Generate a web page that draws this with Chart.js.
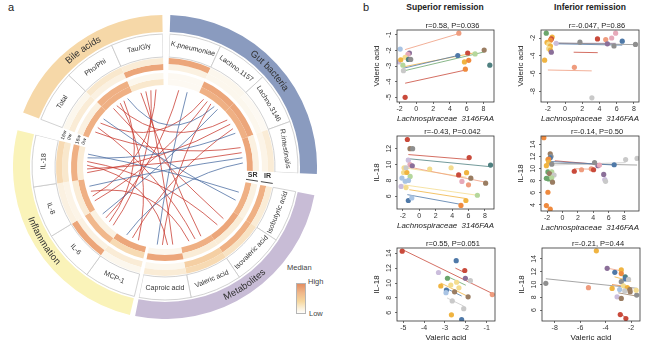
<!DOCTYPE html>
<html>
<head>
<meta charset="utf-8">
<script src="https://cdn.jsdelivr.net/npm/chart.js@4.4.0/dist/chart.umd.min.js"></script>
<style>
  body { margin: 0; background: #fff; width: 650px; height: 350px; overflow: hidden; position: relative;
         font-family: "Liberation Sans", Arial, sans-serif; color: #222; }
  .abs { position: absolute; white-space: nowrap; }
  canvas { position: absolute; }
</style>
</head>
<body>
<div class="abs" style="left:8px;top:1px;font-size:11px;">a</div>
<div class="abs" style="left:363px;top:1px;font-size:11px;">b</div>
<div class="abs" style="left:385px;top:2px;width:120px;text-align:center;font-size:8.5px;font-weight:bold;">Superior remission</div>
<div class="abs" style="left:530px;top:2px;width:120px;text-align:center;font-size:8.5px;font-weight:bold;">Inferior remission</div>

<div class="abs" style="left:287px;top:263px;font-size:7.5px;color:#444;">Median</div>
<div class="abs" style="left:296px;top:283px;width:8px;height:29px;border:1px solid #b5b5b5;
     background:linear-gradient(#e38e62, #f0b789 30%, #f6d79e 60%, #fbf1dc 85%, #fefdfb);"></div>
<div class="abs" style="left:308px;top:277px;font-size:7.5px;color:#444;">High</div>
<div class="abs" style="left:309px;top:309px;font-size:7.5px;color:#444;">Low</div>

<canvas id="circos" width="304" height="304" style="left:13px;top:15px;"></canvas>
<canvas id="p1"></canvas>
<canvas id="p2"></canvas>
<canvas id="p3"></canvas>
<canvas id="p4"></canvas>
<canvas id="p5"></canvas>
<canvas id="p6"></canvas>

<script>
// ---------------- panel a : circos data ----------------
const groups = ['Gut bacteria', 'Metabolites', 'Inflammation', 'Bile acids'];
const features = ['K.pneumoniae', 'Lachno.1157', 'Lachno.3146', 'R.intestinalis',
    'Isobutyric acid', 'Isovaleric acid', 'Valeric acid', 'Caproic acid',
    'MCP-1', 'IL-6', 'IL-8', 'IL-18',
    'Total', 'Pho/Phi', 'Tau/Gly'];
const featureGroup = [0, 0, 0, 0, 1, 1, 1, 1, 2, 2, 2, 2, 3, 3, 3];

// scaled medians, 0 = low, 1 = high (outer ring first)
const medianIR16w = [0.85, 0.10, 0.05, 0.30, 0.30, 0.40, 0.50, 0.30, 0.10, 0.85, 0.20, 0.50, 0.10, 0.35, 0.30];
const medianIR0w  = [0.20, 0.10, 0.10, 0.15, 0.80, 0.80, 0.60, 0.10, 0.30, 0.20, 0.15, 0.35, 0.30, 0.20, 0.85];
const medianSR16w = [0.05, 0.85, 0.85, 0.20, 0.20, 0.30, 0.30, 0.85, 0.50, 0.75, 0.30, 0.80, 0.20, 0.80, 0.10];
const medianSR0w  = [0.05, 0.80, 0.80, 0.85, 0.80, 0.85, 0.80, 0.10, 0.85, 0.20, 0.80, 0.30, 0.80, 0.80, 0.35];
const ringNames = ['16w', '0w', '16w', '0w'];

// correlations drawn as links (1 = positive, -1 = negative)
const linkFrom = ['Tau/Gly', 'Tau/Gly', 'Tau/Gly', 'Pho/Phi', 'Pho/Phi', 'Pho/Phi', 'Total', 'Total', 'Total',
    'IL-18', 'IL-18', 'IL-18', 'IL-8', 'IL-8', 'IL-6', 'MCP-1', 'Caproic acid', 'Valeric acid', 'Isovaleric acid',
    'K.pneumoniae', 'Lachno.1157', 'Lachno.3146', 'R.intestinalis', 'Isobutyric acid', 'Lachno.1157',
    'K.pneumoniae', 'Isobutyric acid', 'R.intestinalis'];
const linkTo = ['Valeric acid', 'Caproic acid', 'IL-6', 'Isovaleric acid', 'Lachno.3146', 'MCP-1', 'R.intestinalis',
    'Valeric acid', 'Lachno.1157', 'Lachno.3146', 'R.intestinalis', 'Caproic acid', 'Lachno.1157', 'Tau/Gly',
    'Pho/Phi', 'Lachno.3146', 'Lachno.1157', 'IL-8', 'IL-18', 'IL-6',
    'Pho/Phi', 'IL-18', 'IL-8', 'IL-18', 'IL-6', 'Caproic acid', 'Total', 'MCP-1'];
const linkSign = [1, 1, 1, 1, 1, 1, 1, 1, 1, 1, 1, 1, 1, 1, 1, 1, 1, 1, 1, 1, -1, -1, -1, -1, -1, -1, -1, -1];

// ---------------- panel b : scatter data ----------------
// colour index per subject, points [x], [y], [colour], fitted lines [x1, y1, x2, y2, colour]
const p1X = [5.06, -1.92, -0.82, -1.0, -1.33, -0.94, -0.67, -2.1, -1.85, -1.6, -1.53, 4.94, 6.12, 7.0, 8.08, 5.73, 6.24, 5.84, 8.75, -1.33];
const p1Y = [-0.9, -1.92, -2.17, -2.25, -2.44, -2.58, -2.58, -2.74, -2.6, -2.95, -3.3, -2.33, -2.17, -2.23, -1.98, -2.74, -2.64, -3.2, -2.95, -5.0];
const p1C = [1, 8, 9, 15, 4, 14, 12, 10, 3, 6, 13, 7, 0, 6, 11, 3, 2, 2, 14, 0];
const p1Lines = [[-1.33, -1.95, 4.94, -0.95, 1], [-1.6, -3.15, 4.94, -2.33, 7], [-1.5, -3.05, 7.0, -2.15, 3],
    [-1.4, -3.3, 8.1, -2.1, 5], [-1.33, -4.1, 5.84, -3.26, 0]];

const p2X = [-2.19, -1.5, -1.6, -1.7, -2.1, -1.9, -1.7, -1.9, -1.7, -1.6, -2.38, -1.04, 1.73, 3.77, 4.73, 5.42, 5.88, 4.92, 6.65, 5.69, 8.19, 1.08, 3.12];
const p2Y = [-1.46, -1.9, -2.1, -2.25, -2.5, -2.7, -2.9, -3.2, -3.35, -3.6, -4.5, -2.6, -2.47, -2.1, -2.18, -2.0, -1.46, -2.65, -2.36, -2.9, -2.72, -5.3, -8.73];
const p2C = [5, 3, 0, 2, 3, 4, 3, 4, 3, 9, 3, 10, 12, 0, 1, 15, 15, 9, 7, 12, 12, 1, 13];
const p2Lines = [[-1.3, -2.55, 8.2, -2.75, 12], [-1.3, -2.65, 6.65, -2.8, 7], [-1.0, -2.6, 5.9, -2.6, 9],
    [1.0, -3.6, 3.8, -3.65, 0], [-2.0, -5.6, 3.1, -5.7, 1]];

const p3X = [-1.44, -1.12, -0.8, 6.08, 8.68, -1.32, -1.12, -0.84, -1.84, -1.6, 1.28, 3.88, 5.76, 4.8, -1.9, -1.5, -1.1, 5.2, 6.28, 8.08, 6.0, -2.1, -1.7, -1.3, -2.2, -1.6, 7.08, 5.68, 5.08, -1.32, -0.9];
const p3Y = [13.16, 12.0, 12.0, 10.88, 9.93, 10.55, 10.0, 9.85, 9.6, 9.6, 9.44, 9.6, 8.98, 8.7, 9.0, 9.0, 8.5, 7.87, 8.28, 7.66, 7.45, 8.3, 7.9, 8.0, 7.25, 7.1, 6.13, 5.47, 4.85, 5.47, 5.8];
const p3C = [0, 11, 12, 0, 14, 10, 15, 9, 4, 13, 4, 4, 3, 0, 4, 3, 6, 15, 11, 11, 1, 8, 8, 8, 10, 4, 6, 3, 2, 7, 8];
const p3Lines = [[-1.32, 11.26, 6.0, 10.64, 0], [-1.52, 10.76, 8.68, 9.73, 14], [-1.44, 9.73, 8.08, 7.78, 1],
    [-1.8, 9.6, 5.76, 8.4, 4], [-1.92, 7.45, 7.08, 6.13, 4], [-1.2, 6.83, 5.68, 5.72, 3], [-1.44, 6.21, 5.08, 4.98, 7]];

const p4X = [-2.43, -1.6, -1.5, -1.6, -1.9, -1.8, -1.8, -2.1, -1.4, -1.9, -1.4, -1.7, -1.1, -2.1, -1.8, -1.4, -1.3, -1.9, -2.1, -1.6, 1.53, 2.47, 3.74, 4.04, 4.6, 4.8, 4.17, 6.72, 8.21, 9.7, 5.36, 5.5, 5.6];
const p4Y = [15.13, 12.45, 12.04, 11.8, 11.5, 11.6, 11.1, 10.5, 10.75, 9.46, 9.46, 9.2, 8.95, 8.4, 8.3, 8.5, 7.76, 6.1, 3.9, 3.3, 9.57, 9.82, 9.98, 9.82, 10.5, 10.6, 11.0, 10.65, 11.5, 11.7, 9.05, 8.2, 7.9];
const p4C = [2, 11, 12, 7, 3, 2, 3, 3, 12, 5, 6, 11, 13, 5, 5, 6, 11, 2, 2, 2, 0, 1, 1, 0, 9, 15, 12, 7, 13, 13, 9, 10, 13];
const p4Lines = [[-1.6, 11.2, 6.72, 10.6, 7], [-1.5, 10.9, 9.7, 10.6, 12], [-1.3, 10.6, 8.2, 11.0, 13],
    [1.5, 10.0, 4.0, 9.9, 1], [-1.0, 11.3, 4.8, 10.7, 0]];

const p5X = [-5.05, -2.46, -2.05, -3.31, -2.88, -2.02, -1.78, -2.44, -2.72, -3.2, -2.33, -2.93, -2.54, -2.95, -1.89, -0.73, -2.65, -2.1, -2.69, -2.2];
const p5Y = [14.27, 13.0, 11.68, 11.41, 10.64, 10.64, 10.32, 10.1, 9.73, 9.6, 9.36, 9.05, 8.82, 8.7, 8.14, 8.45, 7.6, 6.55, 5.73, 5.1];
const p5C = [0, 7, 0, 10, 5, 9, 13, 4, 4, 3, 4, 7, 11, 8, 11, 1, 13, 13, 3, 7];
const p5Lines = [[-5.05, 14.5, -0.73, 8.6, 0], [-2.5, 12.0, -2.05, 11.4, 0], [-2.9, 10.9, -2.0, 9.7, 5],
    [-3.2, 10.0, -1.9, 8.2, 3], [-2.95, 9.3, -2.2, 8.25, 7], [-2.9, 8.0, -2.1, 6.9, 13]];

const p6X = [-4.73, -3.88, -3.28, -2.77, -2.77, -2.46, -2.46, -2.77, -2.2, -8.7, -5.35, -3.49, -2.6, -2.3, -2.9, -2.5, -2.1, -3.1, -2.77, -2.07, -1.56, -1.6, -2.85, -2.41];
const p6Y = [15.26, 12.53, 11.9, 12.27, 11.7, 11.2, 10.86, 10.44, 10.8, 10.18, 9.5, 9.39, 9.8, 9.5, 9.2, 9.0, 9.2, 8.08, 7.82, 8.87, 8.35, 9.1, 5.3, 4.68];
const p6C = [3, 9, 7, 3, 2, 14, 7, 12, 13, 12, 1, 3, 4, 3, 8, 13, 11, 10, 11, 11, 12, 4, 0, 0];
const p6Lines = [[-8.7, 10.9, -1.5, 9.4, 12], [-4.0, 12.6, -2.7, 12.1, 1], [-3.3, 11.2, -2.0, 10.5, 3],
    [-3.5, 10.0, -2.1, 9.6, 2], [-2.9, 5.5, -2.4, 4.8, 0], [-3.0, 8.7, -1.6, 8.2, 11]];

// ---------------- styles ----------------
const fontFamily = '"Liberation Sans", Arial, sans-serif';
Chart.defaults.font.family = fontFamily;
Chart.defaults.color = '#222';

const palette = ['#c94a3b', '#ef9c7e', '#ef8a3e', '#f0b441', '#f4dc8e', '#6ca66c', '#b5d79c', '#4f79a8',
    '#a9c4e4', '#8b6f99', '#cbbddc', '#9a7d62', '#8f8f8f', '#c9c9c9', '#4f8080', '#e6a9b9'];
const groupColors = ['#8a9bbf', '#c8bcd6', '#faf3b9', '#f6d8a8'];
const heatStops = [[0, [253, 252, 248]], [0.3, [250, 236, 214]], [0.55, [246, 214, 170]],
    [0.78, [240, 180, 136]], [1, [226, 137, 93]]];
const clear = 'rgba(0,0,0,0)';

function heatColor(v) {
    for (let i = 1; i < heatStops.length; i++) {
        if (v <= heatStops[i][0]) {
            const a = heatStops[i - 1], b = heatStops[i];
            const t = (v - a[0]) / (b[0] - a[0]);
            const c = a[1].map((x, k) => Math.round(x + (b[1][k] - x) * t));
            return `rgb(${c[0]},${c[1]},${c[2]})`;
        }
    }
    return 'rgb(226,137,93)';
}

// ---------------- circos rings ----------------
const gapDeg = [8, 2, 7, 3];
const segDeg = (360 - 20) / features.length;

let slices = [];
let sliceIsGap = [];
let sliceOf = [];
let bandSlices = [];
let bandColors = [];
for (let i = 0; i < features.length; i++) {
    sliceOf.push(slices.length);
    slices.push(segDeg);
    sliceIsGap.push(false);
    const last = (i == features.length - 1 || featureGroup[i + 1] != featureGroup[i]);
    if (last) {
        const g = featureGroup[i];
        slices.push(gapDeg[g]);
        sliceIsGap.push(true);
        let n = 0;
        for (let j = 0; j < features.length; j++) if (featureGroup[j] == g) n++;
        bandSlices.push(n * segDeg, gapDeg[g]);
        bandColors.push(groupColors[g], clear);
    }
}

function heatRing(vals, w) {
    let colors = [];
    let k = 0;
    for (let j = 0; j < slices.length; j++) {
        colors.push(sliceIsGap[j] ? clear : heatColor(vals[k++]));
    }
    return {data: slices, backgroundColor: colors, borderWidth: 0, weight: w};
}

function spacer(w) {
    return {data: [1], backgroundColor: [clear], borderWidth: 0, weight: w};
}

const circosData = {
    datasets: [
        {data: bandSlices, backgroundColor: bandColors, borderWidth: 0, weight: 17},
        spacer(2),
        {data: slices, backgroundColor: slices.map(() => '#ffffff'),
         borderColor: sliceIsGap.map(g => g ? clear : '#c6c6c6'),
         borderWidth: sliceIsGap.map(g => g ? 0 : 0.8), weight: 23},
        spacer(1),
        heatRing(medianIR16w, 6),
        heatRing(medianIR0w, 6),
        spacer(3),
        heatRing(medianSR16w, 6),
        heatRing(medianSR0w, 6),
        spacer(4)
    ]
};

function textRotation(a) {
    // keep labels readable: clockwise on the top half, counter-clockwise below
    return Math.sin(a) <= 0.0001 ? a + Math.PI / 2 : a - Math.PI / 2;
}

function curvedText(ctx, text, cx, cy, r, mid) {
    const total = ctx.measureText(text).width / r;
    const top = Math.sin(mid) <= 0;
    let pos = 0;
    for (let i = 0; i < text.length; i++) {
        const w = ctx.measureText(text[i]).width;
        const off = (pos + w / 2) / r - total / 2;
        const a = top ? mid + off : mid - off;
        ctx.save();
        ctx.translate(cx + r * Math.cos(a), cy + r * Math.sin(a));
        ctx.rotate(top ? a + Math.PI / 2 : a - Math.PI / 2);
        ctx.fillText(text[i], 0, 0);
        ctx.restore();
        pos += w;
    }
}

const circosDecor = {
    id: 'circosDecor',
    afterDatasetsDraw(chart) {
        const ctx = chart.ctx;
        const bandArcs = chart.getDatasetMeta(0).data;
        const labelArcs = chart.getDatasetMeta(2).data;
        const cx = labelArcs[0].x, cy = labelArcs[0].y;
        const linkR = chart.getDatasetMeta(9).data[0].innerRadius;

        // links
        let count = features.map(() => 0);
        let used = features.map(() => 0);
        for (let i = 0; i < linkFrom.length; i++) {
            count[features.indexOf(linkFrom[i])]++;
            count[features.indexOf(linkTo[i])]++;
        }
        function endPoint(name) {
            const f = features.indexOf(name);
            const arc = labelArcs[sliceOf[f]];
            used[f]++;
            const t = used[f] / (count[f] + 1);
            const a = arc.startAngle + (arc.endAngle - arc.startAngle) * (0.08 + 0.84 * t);
            return [cx + linkR * Math.cos(a), cy + linkR * Math.sin(a)];
        }
        ctx.save();
        ctx.lineWidth = 0.75;
        for (let i = 0; i < linkFrom.length; i++) {
            const p = endPoint(linkFrom[i]);
            const q = endPoint(linkTo[i]);
            const mx = (p[0] + q[0]) / 2, my = (p[1] + q[1]) / 2;
            ctx.strokeStyle = linkSign[i] > 0 ? '#c7352b' : '#46689f';
            ctx.beginPath();
            ctx.moveTo(p[0], p[1]);
            ctx.quadraticCurveTo(cx + (mx - cx) * 0.3, cy + (my - cy) * 0.3, q[0], q[1]);
            ctx.stroke();
        }
        ctx.restore();

        // feature names
        ctx.save();
        ctx.fillStyle = '#333';
        ctx.textAlign = 'center';
        ctx.textBaseline = 'middle';
        ctx.font = '7px ' + fontFamily;
        for (let i = 0; i < features.length; i++) {
            const arc = labelArcs[sliceOf[i]];
            const a = (arc.startAngle + arc.endAngle) / 2;
            const r = (arc.innerRadius + arc.outerRadius) / 2;
            ctx.save();
            ctx.translate(cx + r * Math.cos(a), cy + r * Math.sin(a));
            ctx.rotate(textRotation(a));
            ctx.fillText(features[i], 0, 0);
            ctx.restore();
        }

        // group names along the outer band
        ctx.font = '9.5px ' + fontFamily;
        for (let g = 0; g < groups.length; g++) {
            const arc = bandArcs[g * 2];
            const a = (arc.startAngle + arc.endAngle) / 2;
            const r = (arc.innerRadius + arc.outerRadius) / 2;
            curvedText(ctx, groups[g], cx, cy, r, a);
        }

        // ring names in the gap before "Total"
        ctx.font = '5px ' + fontFamily;
        const gapArc = chart.getDatasetMeta(4).data[sliceOf[features.indexOf('Total')] - 1];
        const ga = (gapArc.startAngle + gapArc.endAngle) / 2;
        const ringIdx = [4, 5, 7, 8];
        for (let k = 0; k < ringIdx.length; k++) {
            const arc = chart.getDatasetMeta(ringIdx[k]).data[0];
            const r = (arc.innerRadius + arc.outerRadius) / 2;
            ctx.save();
            ctx.translate(cx + r * Math.cos(ga), cy + r * Math.sin(ga));
            ctx.rotate(textRotation(ga));
            ctx.fillText(ringNames[k], 0, 0);
            ctx.restore();
        }

        // SR / IR brackets in the gap after gut bacteria
        const sArc = chart.getDatasetMeta(4).data[sliceOf[features.indexOf('R.intestinalis')] + 1];
        const aText = sArc.startAngle + (sArc.endAngle - sArc.startAngle) * 0.3;
        const aLine = sArc.startAngle + (sArc.endAngle - sArc.startAngle) * 0.75;
        const pairs = [['SR', 8, 7], ['IR', 5, 4]];
        ctx.font = 'bold 7px ' + fontFamily;
        ctx.lineWidth = 0.9;
        ctx.strokeStyle = '#333';
        for (let k = 0; k < pairs.length; k++) {
            const r0 = chart.getDatasetMeta(pairs[k][1]).data[0].innerRadius;
            const r1 = chart.getDatasetMeta(pairs[k][2]).data[0].outerRadius;
            const rm = (r0 + r1) / 2;
            ctx.fillText(pairs[k][0], cx + rm * Math.cos(aText), cy + rm * Math.sin(aText));
            ctx.beginPath();
            ctx.moveTo(cx + r0 * Math.cos(aLine), cy + r0 * Math.sin(aLine));
            ctx.lineTo(cx + r1 * Math.cos(aLine), cy + r1 * Math.sin(aLine));
            ctx.stroke();
        }
        ctx.restore();
    }
};

new Chart(document.getElementById('circos'), {
    type: 'doughnut',
    data: circosData,
    options: {
        responsive: false,
        animation: false,
        events: [],
        rotation: 2,
        circumference: 360,
        radius: 152,
        cutout: '51.3%',
        plugins: {legend: {display: false}, tooltip: {enabled: false}}
    },
    plugins: [circosDecor]
});

// ---------------- scatter panels ----------------
const plotBox = {
    id: 'plotBox',
    afterDraw(chart) {
        const a = chart.chartArea;
        const ctx = chart.ctx;
        ctx.save();
        ctx.strokeStyle = '#333';
        ctx.lineWidth = 0.8;
        ctx.strokeRect(a.left, a.top, a.right - a.left, a.bottom - a.top);

        // y tick labels parallel to the axis, as in base R
        const s = chart.scales.y;
        ctx.fillStyle = '#333';
        ctx.font = '7px ' + fontFamily;
        ctx.textAlign = 'center';
        ctx.textBaseline = 'middle';
        for (let i = 0; i < s.ticks.length; i++) {
            const y = s.getPixelForValue(s.ticks[i].value);
            ctx.save();
            ctx.translate(a.left - 7.5, y);
            ctx.rotate(-Math.PI / 2);
            ctx.fillText(s.ticks[i].label, 0, 0);
            ctx.restore();
        }
        ctx.restore();
    }
};

const yAxisW = 30, rightW = 44, xAxisH = 26, noteH = 9;

function makePanel(id, box, xs, ys, cs, lines, xr, yr, xStep, yStep, xTitle, yTitle, note) {
    const cv = document.getElementById(id);
    const w = box[2] - box[0], h = box[3] - box[1];
    cv.width = w + yAxisW + rightW;
    cv.height = h + noteH + xAxisH;
    cv.style.left = (box[0] - yAxisW) + 'px';
    cv.style.top = (box[1] - noteH) + 'px';

    let datasets = [{
        type: 'scatter',
        data: xs.map((x, i) => ({x: x, y: ys[i]})),
        pointBackgroundColor: cs.map(c => palette[c]),
        pointBorderWidth: 0,
        pointRadius: 2.6,
        order: 0
    }];
    for (let i = 0; i < lines.length; i++) {
        const l = lines[i];
        datasets.push({
            type: 'line',
            data: [{x: l[0], y: l[1]}, {x: l[2], y: l[3]}],
            borderColor: palette[l[4]],
            borderWidth: 0.8,
            pointRadius: 0,
            fill: false,
            order: 1
        });
    }
    const tickGrid = {display: true, drawOnChartArea: false, drawTicks: true, tickLength: 2, color: '#333', lineWidth: 0.7};
    new Chart(cv, {
        type: 'scatter',
        data: {datasets: datasets},
        options: {
            responsive: false,
            animation: false,
            events: [],
            layout: {padding: 0},
            plugins: {
                legend: {display: false},
                tooltip: {enabled: false},
                title: {display: true, text: note, font: {size: 7.5, weight: 'normal'}, color: '#222', padding: {top: 0, bottom: 0}}
            },
            scales: {
                x: {
                    type: 'linear', min: xr[0], max: xr[1],
                    border: {display: false}, grid: tickGrid,
                    ticks: {stepSize: xStep, includeBounds: false, font: {size: 7}, color: '#333', padding: 1, maxRotation: 0, autoSkip: false},
                    title: {display: true, text: xTitle.text, font: {size: 8, style: xTitle.italic ? 'italic' : 'normal'}, color: '#222', padding: {top: 0, bottom: 4}},
                    afterFit(s) { s.height = xAxisH; }
                },
                y: {
                    type: 'linear', min: yr[0], max: yr[1],
                    border: {display: false}, grid: tickGrid,
                    ticks: {stepSize: yStep, includeBounds: false, font: {size: 7}, color: clear, padding: 2, autoSkip: false},
                    title: {display: true, text: yTitle, font: {size: 8}, color: '#222', padding: {top: 5, bottom: 0}},
                    afterFit(s) { s.width = yAxisW; }
                },
                yr: {
                    type: 'linear', position: 'right', display: true,
                    grid: {display: false}, border: {display: false}, ticks: {display: false},
                    afterFit(s) { s.width = rightW; }
                }
            }
        },
        plugins: [plotBox]
    });
}

const lachno = {text: 'Lachnospiraceae  3146FAA', italic: true};
const valeric = {text: 'Valeric acid', italic: false};

makePanel('p1', [397, 30, 494, 102], p1X, p1Y, p1C, p1Lines, [-2.3, 9.25], [-5.3, -0.7], 2, 1, lachno, 'Valeric acid', 'r=0.58, P=0.036');
makePanel('p2', [541, 30, 639, 102], p2X, p2Y, p2C, p2Lines, [-2.8, 8.6], [-9.2, -1.1], 2, 2, lachno, 'Valeric acid', 'r=-0.047, P=0.86');
makePanel('p3', [397, 136, 494, 209], p3X, p3Y, p3C, p3Lines, [-2.7, 9.1], [4.4, 13.6], 2, 2, lachno, 'IL-18', 'r=-0.43, P=0.042');
makePanel('p4', [541, 136, 639, 211], p4X, p4Y, p4C, p4Lines, [-2.8, 9.95], [3.0, 15.4], 2, 2, lachno, 'IL-18', 'r=-0.14, P=0.50');
makePanel('p5', [397, 248, 495, 321], p5X, p5Y, p5C, p5Lines, [-5.3, -0.6], [4.9, 14.7], 1, 2, valeric, 'IL-18', 'r=0.55, P=0.051');
makePanel('p6', [542, 248, 640, 321], p6X, p6Y, p6C, p6Lines, [-9.0, -1.3], [4.3, 15.7], 2, 2, valeric, 'IL-18', 'r=-0.21, P=0.44');
</script>
</body>
</html>
